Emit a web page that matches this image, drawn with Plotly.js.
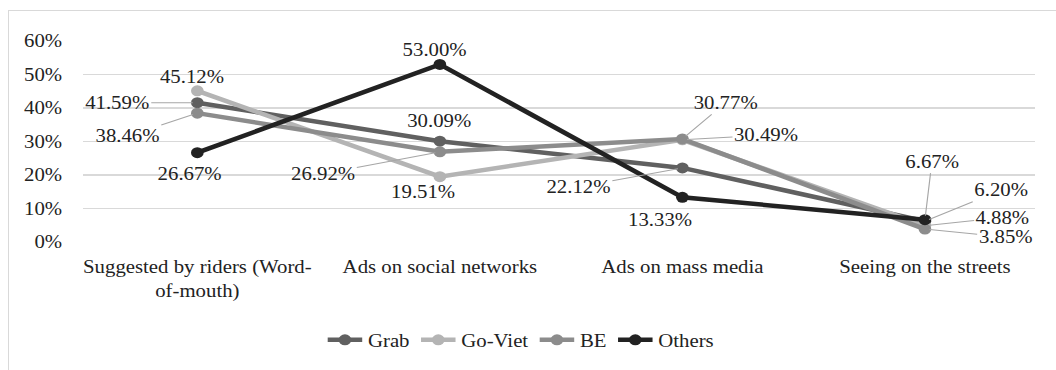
<!DOCTYPE html>
<html>
<head>
<meta charset="utf-8">
<script src="https://cdn.plot.ly/plotly-3.0.1.min.js"></script>
<style>
  html, body { margin: 0; padding: 0; overflow: hidden; background: #fff; }
  #frame { position: absolute; left: 8px; top: 10px; width: 1100px; height: 400px;
           border: 1.5px solid #d9d9d9; box-sizing: border-box; }
  /* the serif face is set wide, so the drawing is stretched horizontally */
  #chart { position: absolute; left: 0; top: 0; width: 918px; height: 370px;
           transform: scaleX(1.1503); transform-origin: 0 0; }
</style>
</head>
<body>
<div id="frame"></div>
<div id="chart"></div>
<script>
// Channels through which customers first learned about each ride-hailing app
const categories = [
  "Suggested by riders (Word-<br>of-mouth)",
  "Ads on social networks",
  "Ads on mass media",
  "Seeing on the streets"
];
const seriesNames = ["Grab", "Go-Viet", "BE", "Others"];
const grab   = [41.59, 30.09, 22.12, 6.20];
const goViet = [45.12, 19.51, 30.49, 4.88];
const be     = [38.46, 26.92, 30.77, 3.85];
const others = [26.67, 53.00, 13.33, 6.67];
const yTickVals  = [0, 10, 20, 30, 40, 50, 60];
const yTickTexts = ["0%", "10%", "20%", "30%", "40%", "50%", "60%"];

const seriesValues = [grab, goViet, be, others];
const colors = ["#606060", "#b4b4b4", "#8c8c8c", "#222222"];

const SX = 1.1503;               // horizontal stretch applied by CSS
const FONT = "Liberation Serif, Tinos, Times New Roman, serif";

// Label placement per series and category: [dx, dy, leader line]
const placement = [
  [[-80, 0, true],  [-1, -20, false], [-104, 19, true], [76, -31, true]],   // Grab
  [[-5, -14, false], [-16, 15, false], [84, -5, true],  [78, -8, true]],     // Go-Viet
  [[-70, 23, true],  [-117, 22, true], [43, -36, true], [81, 8, true]],      // BE
  [[-8, 21, false],  [-5, -14, false], [-22, 23, false], [7, -58, true]]     // Others
];

function buildFigure(fs) {
  const f = { family: FONT, size: fs, color: "#222" };
  const traces = seriesValues.map((vals, i) => ({
    type: "scatter",
    mode: "lines+markers",
    name: seriesNames[i],
    x: categories,
    y: vals,
    line: { color: colors[i], width: 4.5 },
    marker: { color: colors[i], size: 11 },
    cliponaxis: false
  }));

  const annotations = [];
  seriesValues.forEach((vals, i) => {
    vals.forEach((v, j) => {
      const [dx, dy, leader] = placement[i][j];
      const a = {
        x: categories[j], y: v, xref: "x", yref: "y",
        text: v.toFixed(2) + "%",
        font: f
      };
      if (leader) {
        Object.assign(a, {
          showarrow: true, arrowhead: 0, arrowwidth: 1, arrowcolor: "#a6a6a6",
          ax: dx / SX, ay: dy, standoff: 4
        });
      } else {
        Object.assign(a, { showarrow: false, xshift: dx / SX, yshift: -dy });
      }
      annotations.push(a);
    });
  });

  const layout = {
    width: 918, height: 370,
    margin: { l: 72, r: 18, t: 41, b: 128 },
    paper_bgcolor: "rgba(0,0,0,0)",
    plot_bgcolor: "#fff",
    font: f,
    showlegend: true,
    legend: {
      orientation: "h", x: 0.46, xanchor: "center", y: -0.488, yanchor: "middle",
      font: f
    },
    xaxis: {
      type: "category",
      showgrid: false, zeroline: false, showline: false,
      ticks: "", ticklabelstandoff: 12, tickfont: f
    },
    yaxis: {
      range: [0, 60], tickvals: yTickVals, ticktext: yTickTexts,
      showgrid: true, gridcolor: "#d9d9d9", gridwidth: 1.5,
      zeroline: false, showline: false, ticks: "",
      ticklabelstandoff: 17, tickfont: f
    },
    annotations: annotations
  };
  return { traces, layout };
}

// Each pass uses a marginally different size so the serif face is looked up afresh
let pass = 0;
function draw() {
  const fig = buildFigure(18 + 0.02 * pass);
  pass += 1;
  Plotly.purge("chart");
  Plotly.newPlot("chart", fig.traces, fig.layout, { displayModeBar: false, staticPlot: true });
}

draw();
[150, 400, 800, 1500].forEach(t => setTimeout(draw, t));
</script>
</body>
</html>
